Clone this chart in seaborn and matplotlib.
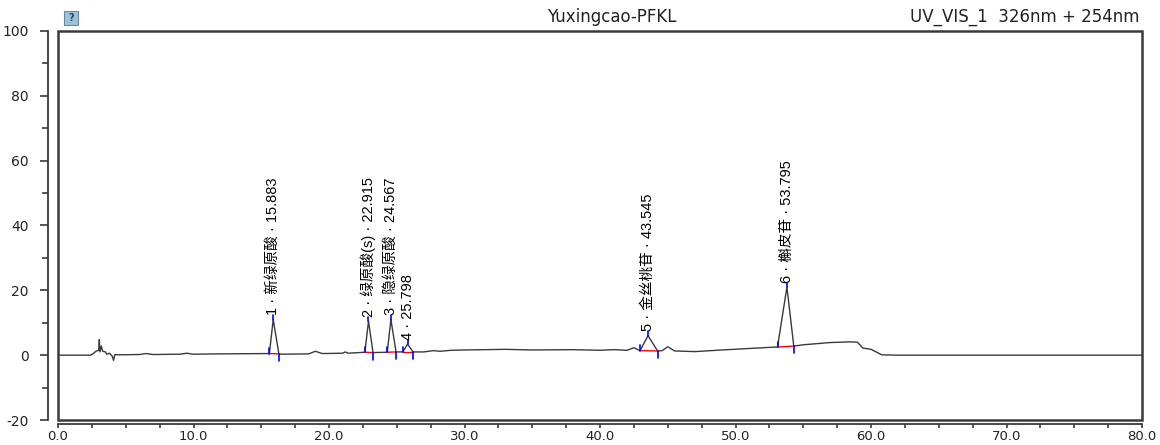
import numpy as np
import pandas as pd
import matplotlib
matplotlib.use("Agg")
import matplotlib.pyplot as plt
import seaborn as sns

# ---- data ----
time_min = [0.0, 2.4, 2.6, 2.8, 3.0, 3.05, 3.1, 3.2, 3.3, 3.5, 3.6, 3.8, 4.0, 4.1, 4.2, 4.5,
            6.0, 6.5, 7.0, 9.0, 9.5, 10.0, 12.0, 15.6, 15.883, 16.3, 16.6, 18.5, 19.0,
            19.5, 21.0, 21.2, 21.4, 22.65, 22.915, 23.25, 24.3, 24.567, 24.95, 25.45, 25.798,
            26.2, 27.0, 27.7, 28.2, 29.0, 30.0, 33.0, 35.0, 38.0, 40.0, 41.0, 42.0, 42.5,
            42.95, 43.545, 44.25, 44.6, 45.0, 45.5, 47.0, 49.0, 52.5, 53.1, 53.795, 54.3, 55.0,
            57.0, 58.5, 59.0, 59.4, 60.0, 60.8, 62.0, 80.0]
signal_mau = [0.0, 0.0, 0.5, 1.2, 1.5, 4.8, 1.0, 2.8, 1.2, 1.0, 0.3, 0.6, -0.3, -1.6, 0.2, 0.1,
              0.2, 0.5, 0.2, 0.3, 0.6, 0.3, 0.4, 0.5, 11.0, 0.4, 0.3, 0.4, 1.2,
              0.5, 0.6, 1.0, 0.6, 0.9, 10.5, 0.8, 0.9, 11.0, 1.0, 1.0, 3.4,
              1.0, 1.0, 1.4, 1.2, 1.5, 1.6, 1.8, 1.6, 1.7, 1.5, 1.7, 1.5, 2.3,
              1.4, 6.0, 1.3, 1.4, 2.6, 1.3, 1.1, 1.6, 2.4, 2.5, 21.0, 2.8, 3.2,
              3.9, 4.1, 4.0, 2.2, 1.8, 0.1, 0.0, 0.0]

peak_numbers = [1, 2, 3, 4, 5, 6]
peak_names = ["新绿原酸", "绿原酸(s)", "隐绿原酸", "", "金丝桃苷", "槲皮苷"]
peak_rt = [15.883, 22.915, 24.567, 25.798, 43.545, 53.795]
peak_start = [15.6, 22.65, 24.3, 25.45, 42.95, 53.1]
peak_end = [16.3, 23.25, 24.95, 26.2, 44.25, 54.3]

title_sample = "Yuxingcao-PFKL"
title_channel = "UV_VIS_1  326nm + 254nm"

# ---- plotting ----
sns.set_style("ticks")
plt.rcParams['font.family'] = ['DejaVu Sans', 'Noto Sans CJK SC']

W, H = 1160, 445
fig = plt.figure(figsize=(W / 100, H / 100), dpi=100)
ax = fig.add_axes([58 / W, 1 - 420 / H, (1142 - 58) / W, (420 - 31) / H])

df = pd.DataFrame({"t": time_min, "s": signal_mau})
sns.lineplot(data=df, x="t", y="s", ax=ax, color="#3a3a3a", linewidth=1.0,
             estimator=None, sort=False)

ax.set_xlim(0, 80)
ax.set_ylim(-20, 100)
ax.set_xlabel("")
ax.set_ylabel("")

ax.set_xticks(np.arange(0, 81, 10))
ax.set_xticklabels([f"{v:.1f}" for v in np.arange(0, 81, 10)])
ax.set_xticks(np.arange(0, 80.1, 2.5), minor=True)
ax.set_yticks(np.arange(-20, 101, 20))
ax.set_yticklabels([f"{v:d}" for v in np.arange(-20, 101, 20)])
ax.set_yticks(np.arange(-20, 101, 10), minor=True)

ax.spines["left"].set_position(("outward", 7))
ax.spines["bottom"].set_position(("outward", 3))
for sp in ["left", "bottom"]:
    ax.spines[sp].set_color("#3a3a3a")
    ax.spines[sp].set_linewidth(1.3)
for sp in ["top", "right"]:
    ax.spines[sp].set_visible(False)

ax.tick_params(axis="y", which="major", length=6, width=1.2, color="#3a3a3a",
               labelsize=10, labelcolor="#222222", pad=8)
ax.tick_params(axis="y", which="minor", length=4, width=1.2, color="#3a3a3a")
ax.tick_params(axis="x", which="both", length=3, width=1.2, color="#3a3a3a",
               labelsize=9.5, labelcolor="#222222", pad=1)

# frame box
frame = plt.Rectangle((0, 0), 1, 1, transform=ax.transAxes, fill=False,
                      edgecolor="#3a3a3a", linewidth=1.8, clip_on=False, zorder=5)
ax.add_patch(frame)

# integration markers and labels
for num, name, rt, st, en in zip(peak_numbers, peak_names, peak_rt, peak_start, peak_end):
    ys = np.interp(st, time_min, signal_mau)
    ye = np.interp(en, time_min, signal_mau)
    ya = np.interp(rt, time_min, signal_mau)
    ax.plot([st, en], [ys, ye], color="red", linewidth=1.0, zorder=3)
    ax.plot([st, st], [ys, ys + 1.6], color="blue", linewidth=1.2, zorder=4)
    ax.plot([en, en], [ye, ye - 2.2], color="blue", linewidth=1.2, zorder=4)
    ax.plot([rt, rt], [ya, ya + 1.4], color="blue", linewidth=1.2, zorder=4)
    label = f"{num} · {name} · {rt:.3f}" if name else f"{num} · {rt:.3f}"
    ax.text(rt, ya + 1.4, label, rotation=90, ha="center", va="bottom",
            fontsize=10.5, color="black",
            family=['Liberation Sans', 'Noto Sans CJK SC', 'DejaVu Sans'], zorder=6)

# small chart icon at top-left
icon = plt.Rectangle((64 / W, 1 - 25 / H), 14 / W, 14 / H, transform=fig.transFigure,
                     facecolor="#9cc3dc", edgecolor="#6f8898", linewidth=0.8)
fig.add_artist(icon)
fig.text(71 / W, 1 - 18 / H, "?", ha="center", va="center", fontsize=7,
         color="#2c4a63", fontweight="bold")

fig.text(612 / W, 1 - 17 / H, title_sample, ha="center", va="center",
         fontsize=12, color="#222222")
fig.text(1140 / W, 1 - 17 / H, title_channel, ha="right", va="center",
         fontsize=12, color="#222222")

fig.savefig("out.png", dpi=100)
